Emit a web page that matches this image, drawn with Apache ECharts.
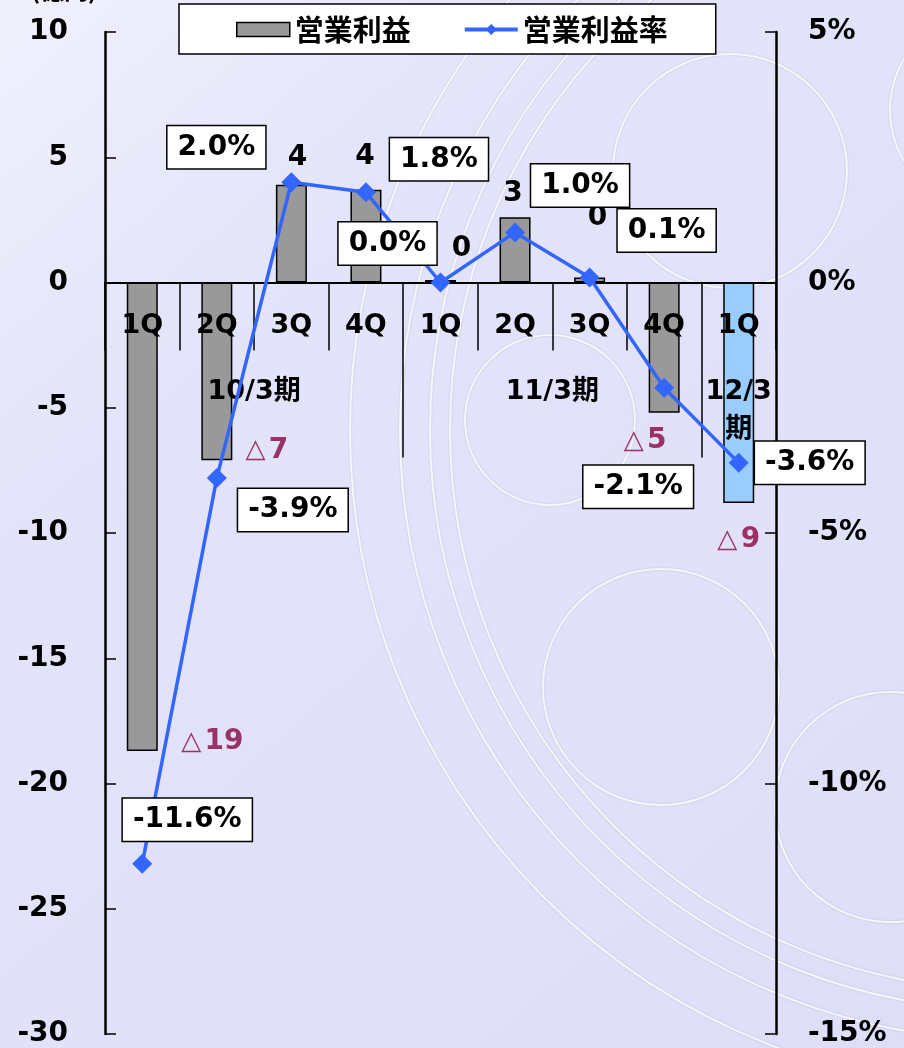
<!DOCTYPE html>
<html>
<head>
<meta charset="utf-8">
<script src="https://cdn.jsdelivr.net/npm/echarts@6/dist/echarts.min.js"></script>
<style>
  html, body { margin: 0; padding: 0; }
  #main { width: 904px; height: 1048px; }
</style>
</head>
<body>
<div id="main"></div>
<script>
// categories
const quarters = ['1Q', '2Q', '3Q', '4Q', '1Q', '2Q', '3Q', '4Q', '1Q']
const periods = ['10/3期', '11/3期', '12/3\n期']
const periodSizes = [4, 4, 1]
// 営業利益 (億円) and 営業利益率 (%)
const opProfit = [-18.7, -7.1, 3.9, 3.7, 0.1, 2.6, 0.2, -5.2, -8.8]
const opMargin = [-11.6, -3.9, 2.0, 1.8, 0.0, 1.0, 0.1, -2.1, -3.6]
const yMin = -30
const yMax = 10

// styling kept apart from the values
const barColors = ['#999999', '#999999', '#999999', '#999999', '#999999', '#999999', '#999999', '#999999', '#99CCFF']
const barLabelOffsets = [[70, -28], [50, -29], [6, -8], [-1, -14], [21, -12], [-2, -5], [8, -41], [-19, 9], [0, 18]]
const lineLabelOffsets = [[45, -44], [76, 32], [-75, -35], [73, -33], [-53, -39], [65, -47], [77, -47], [-26, 99], [71, 0]]

const FONT = "'DejaVu Sans', 'Noto Sans CJK JP', sans-serif"
const CJK = "'Noto Sans CJK JP', sans-serif"

const H = 1048
const gridTop = 32
const gridBottom = 14
// the quarter axis sits on the zero line: a top axis pushed down into the grid
const zeroOffset = -(H - gridTop - gridBottom) * yMax / (yMax - yMin)

// group separators / group label positions on a 0..9 value axis
const groupEdges = []
const groupCenters = []
let acc = 0
periodSizes.forEach((n, i) => {
  groupCenters.push(acc + n / 2)
  acc += n
  if (i < periodSizes.length - 1) groupEdges.push(acc)
})

const chart = echarts.init(document.getElementById('main'))

const bgCircles = [
  [1010, 430, 560], [1010, 430, 580], [1010, 430, 610], [1010, 430, 660],
  [730, 171, 117], [661, 687, 118], [890, 807, 115], [990, 110, 100], [550, 420, 85],
].map(([cx, cy, r]) => ({
  type: 'circle',
  silent: true,
  z: -10,
  shape: { cx, cy, r },
  style: {
    fill: 'none',
    stroke: 'rgba(255,255,255,0.85)',
    lineWidth: 2,
    shadowColor: 'rgba(110,110,150,0.35)',
    shadowBlur: 2,
  },
}))

const option = {
  backgroundColor: new echarts.graphic.LinearGradient(0, 0, 1, 1, [
    { offset: 0, color: '#F0F0FD' },
    { offset: 0.3, color: '#E3E3FA' },
    { offset: 1, color: '#DEDEF8' },
  ]),
  animation: false,
  graphic: { elements: bgCircles },
  title: {
    text: '(億円)',
    left: 26,
    top: -27,
    textStyle: { fontFamily: CJK, fontSize: 24, fontWeight: 'bold', color: '#000' },
  },
  legend: {
    left: 179,
    top: 4,
    padding: [11, 48, 10, 57],
    backgroundColor: '#fff',
    borderColor: '#000',
    borderWidth: 1.5,
    itemWidth: 53,
    itemHeight: 14,
    itemGap: 52,
    textStyle: { fontFamily: CJK, fontSize: 29, fontWeight: 'bold', color: '#000' },
    data: [
      { name: '営業利益', icon: 'rect', itemStyle: { color: '#999999', borderColor: '#000', borderWidth: 1.5 } },
      { name: '営業利益率', lineStyle: { width: 4 } },
    ],
  },
  grid: { left: 105, right: 128, top: gridTop, bottom: gridBottom, outerBoundsMode: 'none' },
  xAxis: [
    {
      type: 'category',
      position: 'top',
      offset: zeroOffset,
      z: 2,
      data: quarters,
      axisLine: { onZero: false, lineStyle: { color: '#000', width: 2 } },
      axisTick: { show: true, inside: true, length: 68, lineStyle: { color: '#000', width: 1.5 } },
      axisLabel: {
        inside: true, margin: 30, color: '#000', fontFamily: FONT, fontSize: 27, fontWeight: 'bold', interval: 0,
      },
      splitLine: { show: false },
    },
    {
      type: 'value',
      position: 'top',
      offset: zeroOffset,
      z: 2,
      min: 0,
      max: quarters.length,
      axisLine: { show: false, onZero: false },
      axisTick: {
        show: true, inside: true, customValues: groupEdges, length: 175, lineStyle: { color: '#000', width: 1.5 },
      },
      axisLabel: {
        inside: true,
        customValues: groupCenters,
        margin: 90,
        color: '#000',
        fontFamily: FONT,
        fontSize: 27,
        fontWeight: 'bold',
        lineHeight: 38,
        verticalAlign: 'top',
        formatter: (v) => periods[groupCenters.indexOf(v)] || '',
      },
      splitLine: { show: false },
    },
  ],
  yAxis: [
    {
      type: 'value',
      min: yMin,
      max: yMax,
      interval: 5,
      axisLine: { show: true, onZero: false, lineStyle: { color: '#000', width: 2.5 } },
      axisTick: { show: true, inside: true, length: 11, lineStyle: { color: '#000', width: 1.5 } },
      axisLabel: { margin: 37, color: '#000', fontFamily: FONT, fontSize: 28, fontWeight: 'bold' },
      splitLine: { show: false },
    },
    {
      type: 'value',
      min: -15,
      max: 5,
      interval: 5,
      axisLine: { show: true, onZero: false, lineStyle: { color: '#000', width: 2.5 } },
      axisTick: { show: true, inside: true, length: 11, lineStyle: { color: '#000', width: 1.5 } },
      axisLabel: {
        margin: 32, color: '#000', fontFamily: FONT, fontSize: 28, fontWeight: 'bold', formatter: '{value}%',
      },
      splitLine: { show: false },
    },
  ],
  series: [
    {
      name: '営業利益',
      type: 'bar',
      xAxisIndex: 0,
      yAxisIndex: 0,
      barWidth: 31,
      z: 1,
      itemStyle: { color: '#999999', borderColor: '#000', borderWidth: 1.5 },
      data: opProfit.map((v, i) => ({
        value: v,
        itemStyle: { color: barColors[i] },
        label: {
          show: true,
          position: v < 0 ? 'bottom' : 'top',
          offset: barLabelOffsets[i],
          formatter: v < 0 ? `{t|△} {n|${Math.round(-v)}}` : `{p|${Math.round(v)}}`,
          rich: {
            t: { fontFamily: FONT, fontSize: 26, color: '#993366', fontWeight: 'bold' },
            n: { fontFamily: FONT, fontSize: 28, color: '#993366', fontWeight: 'bold' },
            p: { fontFamily: FONT, fontSize: 28, color: '#000', fontWeight: 'bold' },
          },
        },
      })),
    },
    {
      name: '営業利益率',
      type: 'line',
      xAxisIndex: 0,
      yAxisIndex: 1,
      z: 3,
      symbol: 'diamond',
      symbolSize: 20,
      color: '#3366FF',
      lineStyle: { color: '#3366FF', width: 3.5 },
      itemStyle: { color: '#3366FF' },
      data: opMargin.map((v, i) => ({
        value: v,
        label: {
          show: true,
          position: 'inside',
          offset: lineLabelOffsets[i],
          formatter: `${v.toFixed(1)}%`,
          fontFamily: FONT,
          fontSize: 28,
          fontWeight: 'bold',
          color: '#000',
          backgroundColor: '#fff',
          borderColor: '#000',
          borderWidth: 1.5,
          padding: [8, 10, 6, 10],
        },
      })),
    },
  ],
}

chart.setOption(option)
</script>
</body>
</html>
